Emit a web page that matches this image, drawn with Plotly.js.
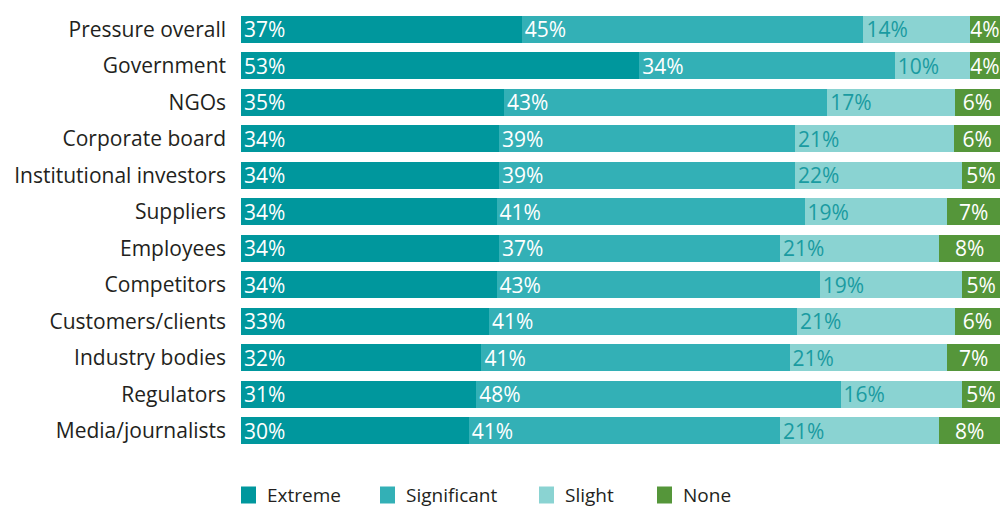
<!DOCTYPE html>
<html>
<head>
<meta charset="utf-8">
<script src="https://cdn.plot.ly/plotly-3.0.1.min.js"></script>
<style>html,body{margin:0;padding:0;background:#fff;}#chart{width:1000px;height:508px;}</style>
</head>
<body>
<div id="chart"></div>
<script>
const categories = ["Pressure overall","Government","NGOs","Corporate board","Institutional investors","Suppliers","Employees","Competitors","Customers/clients","Industry bodies","Regulators","Media/journalists"];
const extreme     = [37,53,35,34,34,34,34,34,33,32,31,30];
const significant = [45,34,43,39,39,41,37,43,41,41,48,41];
const slight      = [14,10,17,21,22,19,21,19,21,21,16,21];
const none        = [4,4,6,6,5,7,8,5,6,7,5,8];
const seriesNames = ["Extreme","Significant","Slight","None"];
const seriesColors = ["#00979D","#33B0B6","#8AD3D2","#55963A"];
const textColors = ["#ffffff","#ffffff","#1A9BA1","#ffffff"];
const textAnchors = ["start","start","start","middle"];
const seriesData = [extreme, significant, slight, none];

const FONT = "'Open Sans', 'Noto Sans', sans-serif";
const W = 1000, H = 508;
const M = {l: 241, r: 0, t: 11, b: 59};
const PW = W - M.l - M.r, PH = H - M.t - M.b;

const traces = seriesData.map((vals, i) => ({
  type: 'bar',
  orientation: 'h',
  name: seriesNames[i],
  y: categories,
  x: vals,
  text: vals.map(v => v + '%'),
  textposition: 'inside',
  insidetextanchor: textAnchors[i],
  constraintext: 'none',
  textangle: 0,
  insidetextfont: {family: FONT, size: 21, color: textColors[i]},
  marker: {color: seriesColors[i], line: {width: 0}},
  hoverinfo: 'name+text',
  showlegend: false
}));

// Legend drawn below the plot (swatch + label per series)
const legendLeftPx = [241, 380, 539, 657];
const legendCenterY = 495;
const px2x = px => (px - M.l) / PW;
const px2y = py => (H - M.b - py) / PH;
const shapes = [];
const annotations = [];
seriesNames.forEach((nm, i) => {
  const x0 = legendLeftPx[i];
  shapes.push({
    type: 'rect', xref: 'paper', yref: 'paper',
    x0: px2x(x0), x1: px2x(x0 + 15),
    y0: px2y(legendCenterY + 8.5), y1: px2y(legendCenterY - 8.5),
    fillcolor: seriesColors[i], line: {width: 0}
  });
  annotations.push({
    xref: 'paper', yref: 'paper',
    x: px2x(x0 + 24), y: px2y(legendCenterY),
    xanchor: 'left', yanchor: 'middle',
    text: nm, showarrow: false,
    font: {family: FONT, size: 19, color: '#231F20'}
  });
});

const layout = {
  width: W, height: H,
  margin: M,
  barmode: 'stack',
  barnorm: 'percent',
  bargap: 0.26,
  uniformtext: {mode: 'show', minsize: 21},
  paper_bgcolor: '#ffffff',
  plot_bgcolor: '#ffffff',
  font: {family: FONT, color: '#231F20'},
  xaxis: {range: [0, 100], visible: false, fixedrange: true},
  yaxis: {
    autorange: 'reversed',
    showgrid: false, zeroline: false, showline: false,
    ticks: '', ticklabelstandoff: 14,
    tickfont: {family: FONT, size: 21, color: '#231F20'}
  },
  showlegend: false,
  shapes: shapes,
  annotations: annotations
};

Plotly.newPlot('chart', traces, layout, {displayModeBar: false, staticPlot: true});
</script>
</body>
</html>
